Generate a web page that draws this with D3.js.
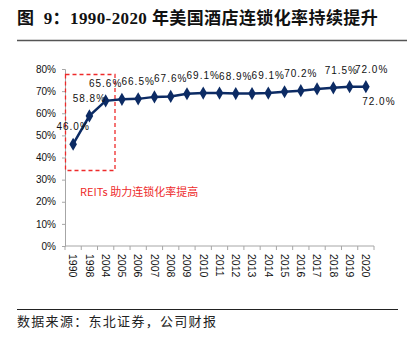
<!DOCTYPE html>
<html>
<head>
<meta charset="utf-8">
<script src="https://cdn.jsdelivr.net/npm/d3@7"></script>
<style>
  body { margin: 0; background: #fff; }
  svg { display: block; }
</style>
</head>
<body>
<div id="chart"></div>
<script>
// data
const years = ["1990", "1998", "2004", "2005", "2006", "2007", "2008", "2009", "2010",
  "2011", "2012", "2013", "2014", "2015", "2016", "2017", "2018", "2019", "2020"];
const rates = [46.0, 58.8, 65.6, 66.3, 66.5, 67.4, 67.6, 68.8, 69.1,
  69.1, 68.9, 68.9, 69.1, 69.7, 70.2, 71.0, 71.5, 72.0, 72.0];
const labelYears = ["1990", "1998", "2004", "2006", "2008", "2010", "2012", "2014", "2016", "2018", "2019", "2020"];
const yTicks = [0, 10, 20, 30, 40, 50, 60, 70, 80];
const titleText = "图  9：1990-2020 年美国酒店连锁化率持续提升";
const noteText = "REITs 助力连锁化率提高";
const sourceText = "数据来源：东北证券，公司财报";

const W = 412, H = 339;
const svg = d3.select("#chart").append("svg")
  .attr("width", W)
  .attr("height", H);

// title + rule
svg.append("text")
  .attr("x", 17)
  .attr("y", 24)
  .style("white-space", "pre")
  .style("font-family", "'Liberation Serif', 'Noto Sans CJK SC'")
  .style("font-weight", "bold")
  .style("font-size", "17px")
  .style("letter-spacing", "0.4px")
  .style("fill", "#111")
  .text(titleText);

svg.append("line")
  .attr("x1", 17).attr("x2", 407)
  .attr("y1", 40.5).attr("y2", 40.5)
  .attr("stroke", "#555")
  .attr("stroke-width", 1.5);

// scales
const x = d3.scaleBand()
  .domain(years)
  .range([65, 374]);

const y = d3.scaleLinear()
  .domain([0, 80])
  .range([246, 69]);

// y axis
const yAxis = svg.append("g")
  .attr("transform", "translate(65,0)")
  .call(d3.axisLeft(y).tickValues(yTicks).tickSize(3).tickFormat(d => d + "%"));
yAxis.select(".domain").attr("stroke", "#a6a6a6");
yAxis.selectAll(".tick line").attr("stroke", "#a6a6a6");
yAxis.selectAll("text")
  .attr("x", -9)
  .style("font-family", "'Liberation Sans', Arial")
  .style("font-size", "10px")
  .style("fill", "#111");

// x axis (ticks between categories)
const xAxis = svg.append("g")
  .attr("transform", "translate(0,246)");
xAxis.append("line")
  .attr("x1", 65).attr("x2", 374)
  .attr("stroke", "#a6a6a6");
xAxis.selectAll(".tk")
  .data(years.concat(["end"]))
  .join("line")
  .attr("class", "tk")
  .attr("x1", (d, i) => i < years.length ? x(d) : x.range()[1])
  .attr("x2", (d, i) => i < years.length ? x(d) : x.range()[1])
  .attr("y1", 0).attr("y2", 4)
  .attr("stroke", "#a6a6a6");
xAxis.selectAll(".lbl")
  .data(years)
  .join("text")
  .attr("class", "lbl")
  .attr("transform", d => `translate(${x(d) + x.bandwidth() / 2},8) rotate(90)`)
  .attr("dy", "0.35em")
  .style("font-family", "'Liberation Sans', Arial")
  .style("font-size", "10.5px")
  .style("fill", "#111")
  .text(d => d);

// dashed highlight box
svg.append("rect")
  .attr("x", 65.5)
  .attr("y", 74.5)
  .attr("width", 49.5)
  .attr("height", 96)
  .attr("fill", "none")
  .attr("stroke", "#ee2a2a")
  .attr("stroke-width", 1.3)
  .attr("stroke-dasharray", "4,3");

svg.append("text")
  .attr("x", 80)
  .attr("y", 196)
  .style("font-family", "'Noto Sans CJK SC'")
  .style("font-size", "11px")
  .style("fill", "#ee2a2a")
  .text(noteText);

// line + markers
const data = years.map((d, i) => ({year: d, value: rates[i]}));
const cx = d => x(d.year) + x.bandwidth() / 2;

svg.append("path")
  .datum(data)
  .attr("fill", "none")
  .attr("stroke", "#0c2b64")
  .attr("stroke-width", 2.5)
  .attr("d", d3.line().x(cx).y(d => y(d.value)));

svg.selectAll(".pt")
  .data(data)
  .join("path")
  .attr("class", "pt")
  .attr("transform", d => `translate(${cx(d)},${y(d.value)})`)
  .attr("d", d3.symbol(d3.symbolDiamond, 50))
  .attr("fill", "#0c2b64");

// value labels (some nudged like in the original)
const nudge = {"2018": [8, 0], "2019": [22, 0], "2020": [13, 32]};
svg.selectAll(".val")
  .data(data.filter(d => labelYears.includes(d.year)))
  .join("text")
  .attr("class", "val")
  .attr("x", d => cx(d) + (nudge[d.year] ? nudge[d.year][0] : 0))
  .attr("y", d => y(d.value) - 14 + (nudge[d.year] ? nudge[d.year][1] : 0))
  .attr("text-anchor", "middle")
  .style("font-family", "'Liberation Sans', Arial")
  .style("font-size", "10px")
  .style("letter-spacing", "1px")
  .style("fill", "#111")
  .text(d => d.value.toFixed(1) + "%");

// source
svg.append("line")
  .attr("x1", 17).attr("x2", 398)
  .attr("y1", 309.5).attr("y2", 309.5)
  .attr("stroke", "#222")
  .attr("stroke-width", 1);

svg.append("text")
  .attr("x", 17)
  .attr("y", 326)
  .style("font-family", "'Noto Sans CJK SC'")
  .style("font-size", "13px")
  .style("letter-spacing", "1.3px")
  .style("fill", "#222")
  .text(sourceText);
</script>
</body>
</html>
